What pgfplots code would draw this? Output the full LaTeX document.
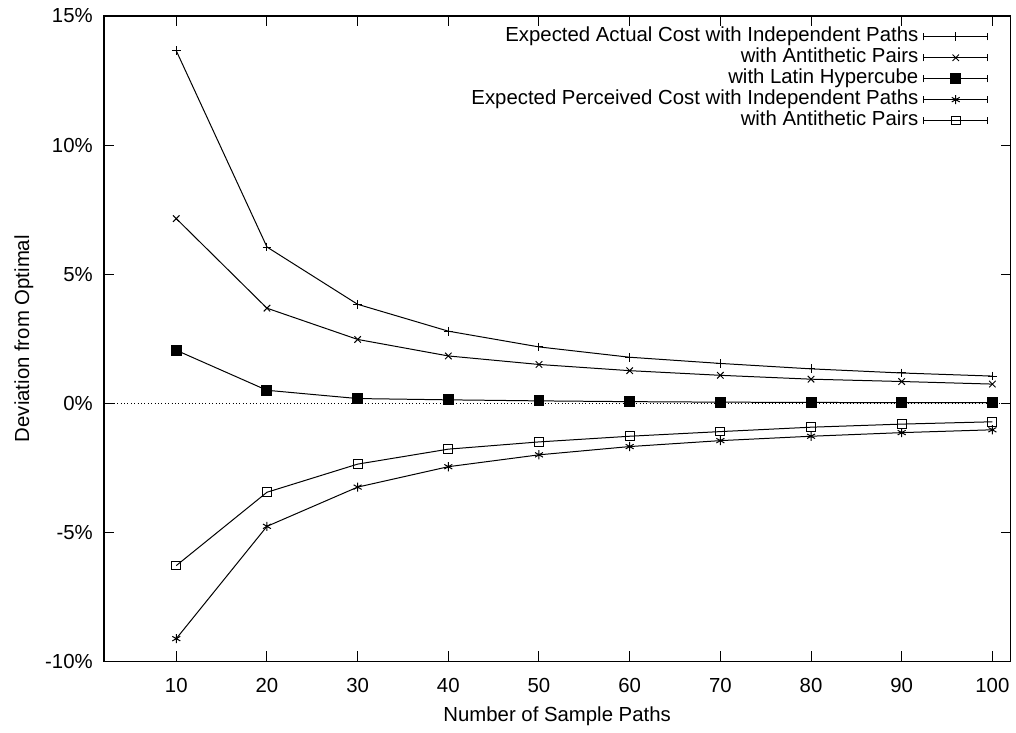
\documentclass[border=0pt]{standalone}
\usepackage{fontspec}
\setmainfont{Liberation Sans}
\usepackage{pgfplots}
\pgfplotsset{compat=1.18}

\pgfplotsset{
  gpkey/.style={
    legend image code/.code={
      \draw[##1, mark=none] (0pt,0pt) -- (32pt,0pt);
      \draw[##1, mark=none] (0pt,-1.8pt) -- (0pt,1.8pt) (32pt,-1.8pt) -- (32pt,1.8pt);
      \draw[##1, draw=none] plot coordinates {(16pt,0pt)};
    }
  }
}

\begin{document}
\begin{tikzpicture}
\begin{axis}[
  scale only axis,
  width=454.5pt, height=323.5pt,
  xmin=2, xmax=102,
  ymin=-10, ymax=15,
  xtick={10,20,...,100},
  ytick={-10,-5,0,5,10,15},
  yticklabels={-10\%,-5\%,0\%,5\%,10\%,15\%},
  tick align=inside,
  major tick length=5pt,
  tick style={black, line width=0.5pt},
  axis line style={line width=0.8pt},
  font=\fontsize{10.2}{12}\selectfont,
  /pgf/number format/assume math mode=true,
  xticklabel style={yshift=-5pt},
  yticklabel style={xshift=-2pt},
  xlabel={Number of Sample Paths},
  ylabel={Deviation from Optimal},
  every axis x label/.style={at={(axis description cs:0.5,-0.085)}, anchor=center},
  every axis y label/.style={at={(axis description cs:-0.088,0.5)}, anchor=center, rotate=90},
  legend plot pos=right,
  legend cell align=right,
  legend style={
    at={(axis description cs:1,1)}, anchor=north east,
    xshift=-8pt, yshift=-3pt,
    draw=none, fill=none,
    row sep=0pt,
    nodes={text height=7.5pt, text depth=2.5pt, inner ysep=0.25pt, inner xsep=2.5pt},
    font=\fontsize{10.2}{12}\selectfont,
  },
  every axis plot/.append style={black, line width=0.5pt, gpkey},
]
\addplot[black, dash pattern=on 0.5pt off 1.2pt, line width=0.5pt, forget plot] coordinates {(2,0) (102,0)};

\addplot[mark=+, mark size=2.2pt] coordinates {
  (10,13.65) (20,6.05) (30,3.83) (40,2.79) (50,2.18)
  (60,1.78) (70,1.54) (80,1.33) (90,1.17) (100,1.05)
};
\addlegendentry{Expected Actual Cost with Independent Paths}

\addplot[mark=x, mark size=2.3pt] coordinates {
  (10,7.15) (20,3.68) (30,2.47) (40,1.83) (50,1.50)
  (60,1.26) (70,1.08) (80,0.93) (90,0.84) (100,0.74)
};
\addlegendentry{with Antithetic Pairs}

\addplot[mark=square*, mark size=2.5pt] coordinates {
  (10,2.05) (20,0.50) (30,0.18) (40,0.13) (50,0.09)
  (60,0.06) (70,0.04) (80,0.03) (90,0.02) (100,0.02)
};
\addlegendentry{with Latin Hypercube}

\addplot[mark=asterisk, mark size=2.3pt] coordinates {
  (10,-9.12) (20,-4.77) (30,-3.25) (40,-2.46) (50,-2.00)
  (60,-1.68) (70,-1.45) (80,-1.28) (90,-1.14) (100,-1.03)
};
\addlegendentry{Expected Perceived Cost with Independent Paths}

\addplot[mark=square, mark size=2.2pt] coordinates {
  (10,-6.29) (20,-3.45) (30,-2.36) (40,-1.78) (50,-1.50)
  (60,-1.28) (70,-1.10) (80,-0.93) (90,-0.81) (100,-0.72)
};
\addlegendentry{with Antithetic Pairs}

\coordinate (bl) at (rel axis cs:0,0);
\coordinate (tr) at (rel axis cs:1,1);
\end{axis}
\path ([shift={(-52pt,-33pt)}]bl) rectangle ([shift={(1.5pt,8pt)}]tr);
\end{tikzpicture}
\end{document}
